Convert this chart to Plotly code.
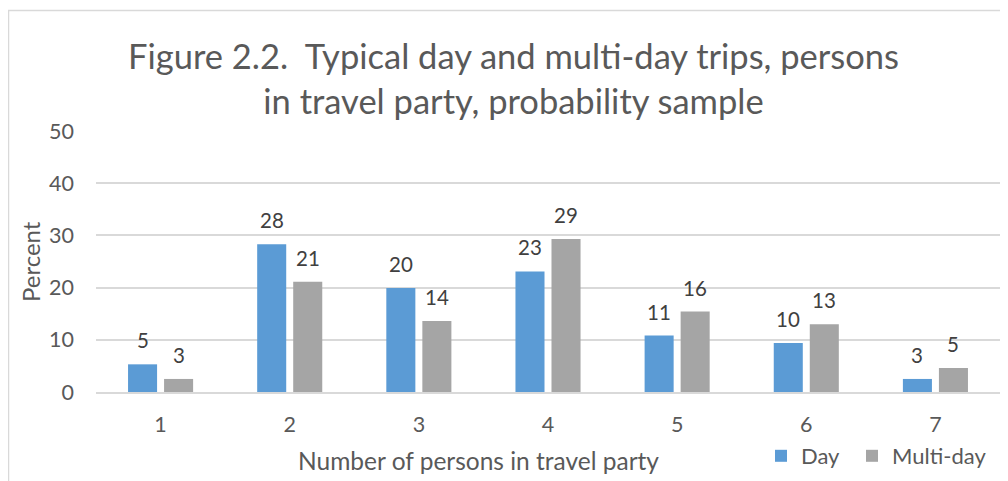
import plotly.graph_objects as go

categories = ["1", "2", "3", "4", "5", "6", "7"]
day_values = [5.3, 28.3, 19.9, 23.1, 10.8, 9.4, 2.5]
multi_values = [2.5, 21.1, 13.6, 29.3, 15.4, 13.0, 4.6]
day_labels = ["5", "28", "20", "23", "11", "10", "3"]
multi_labels = ["3", "21", "14", "29", "16", "13", "5"]
y_ticks = [0, 10, 20, 30, 40, 50]

FONT = "Lato"
AX_COLOR = "#595959"
LBL_COLOR = "#404040"
BLUE = "#5B9BD5"
GRAY = "#A5A5A5"

# page body has an 8px margin; the figure is sized to fit the window
OFF = 8
W, H = 1008 - OFF, 481 - OFF
# plot area in window coordinates: x 96..1000, y 131..392
PL, PR, PT, PB = 96, 1000, 131, 392
L, R, T, B = PL - OFF, W - (PR - OFF), PT - OFF, H - (PB - OFF)
pw, ph = PR - PL, PB - PT

def px_x(x):
    return (x - PL) / pw

def px_y(y):
    return (PB - y) / ph

fig = go.Figure()
fig.add_trace(go.Bar(name="Day", x=categories, y=day_values, marker_color=BLUE,
                     marker_line_width=0, legend="legend"))
fig.add_trace(go.Bar(name="Multi-day", x=categories, y=multi_values, marker_color=GRAY,
                     marker_line_width=0, legend="legend2"))

annotations = []
for i, (v, t) in enumerate(zip(day_values, day_labels)):
    annotations.append(dict(x=i, y=v, text=t, xref="x", yref="y", showarrow=False,
                            xshift=-18, yshift=24, yanchor="middle",
                            font=dict(family=FONT, size=20.5, color=LBL_COLOR)))
for i, (v, t) in enumerate(zip(multi_values, multi_labels)):
    annotations.append(dict(x=i, y=v, text=t, xref="x", yref="y", showarrow=False,
                            xshift=18, yshift=24, yanchor="middle",
                            font=dict(family=FONT, size=20.5, color=LBL_COLOR)))

annotations.append(dict(text="Number of persons in travel party", x=px_x(478), y=px_y(460),
                        xref="paper", yref="paper", showarrow=False,
                        xanchor="center", yanchor="middle",
                        font=dict(family=FONT, size=24.5, color=AX_COLOR)))
annotations.append(dict(text="Percent", x=px_x(30), y=px_y(262), textangle=-90,
                        xref="paper", yref="paper", showarrow=False,
                        xanchor="center", yanchor="middle",
                        font=dict(family=FONT, size=24, color=AX_COLOR)))
annotations.append(dict(text="Figure 2.2.  Typical day and multi-day trips, persons<br>in travel party, probability sample",
                        x=px_x(513), y=px_y(78), xref="paper", yref="paper", showarrow=False,
                        xanchor="center", yanchor="middle",
                        font=dict(family=FONT, size=34.5, color=AX_COLOR)))

legend_style = dict(orientation="h", y=px_y(456), xanchor="left", yanchor="middle",
                    font=dict(family=FONT, size=22, color=AX_COLOR), bgcolor="rgba(0,0,0,0)",
                    itemwidth=30)

fig.update_layout(
    width=W, height=H,
    margin=dict(l=L, r=R, t=T, b=B, autoexpand=False),
    paper_bgcolor="white", plot_bgcolor="white",
    barmode="group", bargap=0.442, bargroupgap=0.194,
    showlegend=True,
    legend=dict(x=px_x(761), **legend_style),
    legend2=dict(x=px_x(852), **legend_style),
    annotations=annotations,
    shapes=[dict(type="rect", xref="paper", yref="paper",
                 x0=px_x(8.5), x1=px_x(1030), y0=px_y(520), y1=px_y(10.5),
                 line=dict(color="#D9D9D9", width=1.5), fillcolor="rgba(0,0,0,0)", layer="below")],
    xaxis=dict(type="category", range=[-0.5, 6.5], showgrid=False, showline=True,
               linecolor="#D9D9D9", linewidth=1.5,
               ticks="", tickfont=dict(family=FONT, size=21.5, color=AX_COLOR),
               ticklabelstandoff=12),
    yaxis=dict(range=[0, 50], tickvals=y_ticks, showgrid=True, gridcolor="#D9D9D9", gridwidth=1.5,
               zeroline=False, showline=False, ticks="",
               tickfont=dict(family=FONT, size=21.5, color=AX_COLOR),
               ticklabelstandoff=21),
)

fig.write_html("out.html")
